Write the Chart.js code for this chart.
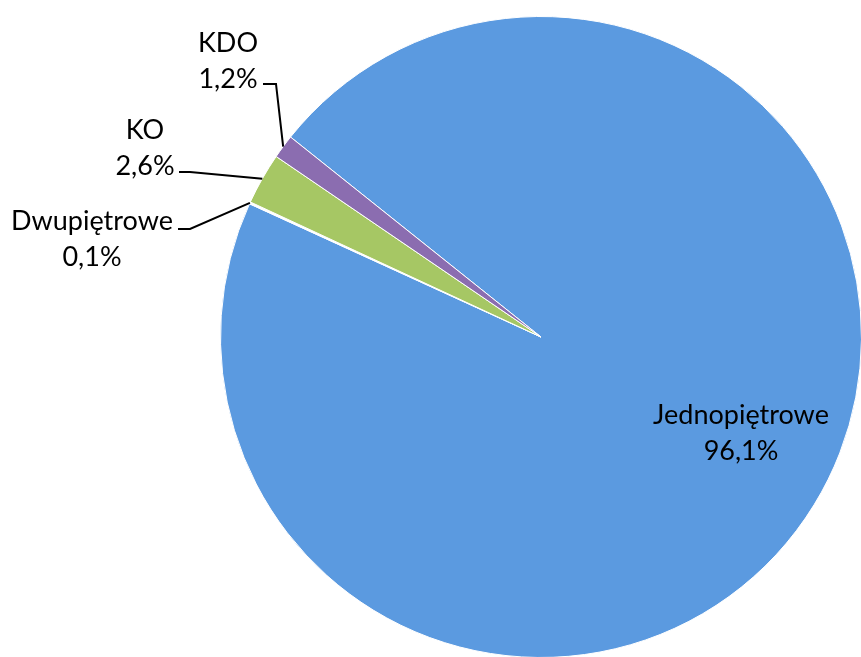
<!DOCTYPE html>
<html>
<head>
<meta charset="utf-8">
<script src="https://cdn.jsdelivr.net/npm/chart.js@4/dist/chart.umd.min.js"></script>
<style>
html,body{margin:0;padding:0;background:#fff;overflow:hidden;width:861px;height:657px;}
#wrap{position:absolute;left:0;top:0;width:1082px;height:674px;}
</style>
</head>
<body>
<div id="wrap"><canvas id="c" width="1082" height="674"></canvas></div>
<script>
const categories = ['Jednopiętrowe', 'Dwupiętrowe', 'KO', 'KDO'];
const shares = [96.1, 0.1, 2.6, 1.2];
const shareLabels = ['96,1%', '0,1%', '2,6%', '1,2%'];
const sliceColors = ['#5b9ae0', '#ffffff', '#a6c764', '#8b6db0'];

const FONT = '27px Lato, "Open Sans", sans-serif';
const LINE_H = 35;

// layout of labels (text centre x, first-line centre y, leader start, elbow)
const placements = [
  {tx: 741, ty: 415, leader: null},
  {tx: 92, ty: 221, leader: {sx: 178, sy: 229, ex: 190, ey: 229}},
  {tx: 145, ty: 130, leader: {sx: 179, sy: 172, ex: 190, ey: 172}},
  {tx: 228, ty: 43, leader: {sx: 263, sy: 84, ex: 276, ey: 84}}
];

const labelPlugin = {
  id: 'sliceLabels',
  afterDatasetsDraw(chart) {
    const ctx = chart.ctx;
    const meta = chart.getDatasetMeta(0);
    ctx.save();
    meta.data.forEach((arc, i) => {
      const p = placements[i];
      if (p.leader) {
        const mid = (arc.startAngle + arc.endAngle) / 2;
        const ax = arc.x + Math.cos(mid) * arc.outerRadius;
        const ay = arc.y + Math.sin(mid) * arc.outerRadius;
        ctx.beginPath();
        ctx.strokeStyle = '#000';
        ctx.lineWidth = 2;
        ctx.moveTo(p.leader.sx, p.leader.sy);
        ctx.lineTo(p.leader.ex, p.leader.ey);
        ctx.lineTo(ax, ay);
        ctx.stroke();
      }
      ctx.fillStyle = '#000';
      ctx.font = FONT;
      ctx.textAlign = 'center';
      ctx.textBaseline = 'middle';
      ctx.fillText(categories[i], p.tx, p.ty);
      ctx.fillText(shareLabels[i], p.tx, p.ty + LINE_H + 1);
    });
    ctx.restore();
  }
};

new Chart(document.getElementById('c'), {
  type: 'pie',
  data: {
    labels: categories,
    datasets: [{
      data: shares,
      backgroundColor: sliceColors,
      borderColor: '#ffffff',
      borderWidth: 1
    }]
  },
  options: {
    responsive: false,
    animation: false,
    rotation: -51.4,
    layout: {padding: 16},
    plugins: {
      legend: {display: false},
      tooltip: {enabled: false}
    }
  },
  plugins: [labelPlugin]
});
</script>
</body>
</html>
